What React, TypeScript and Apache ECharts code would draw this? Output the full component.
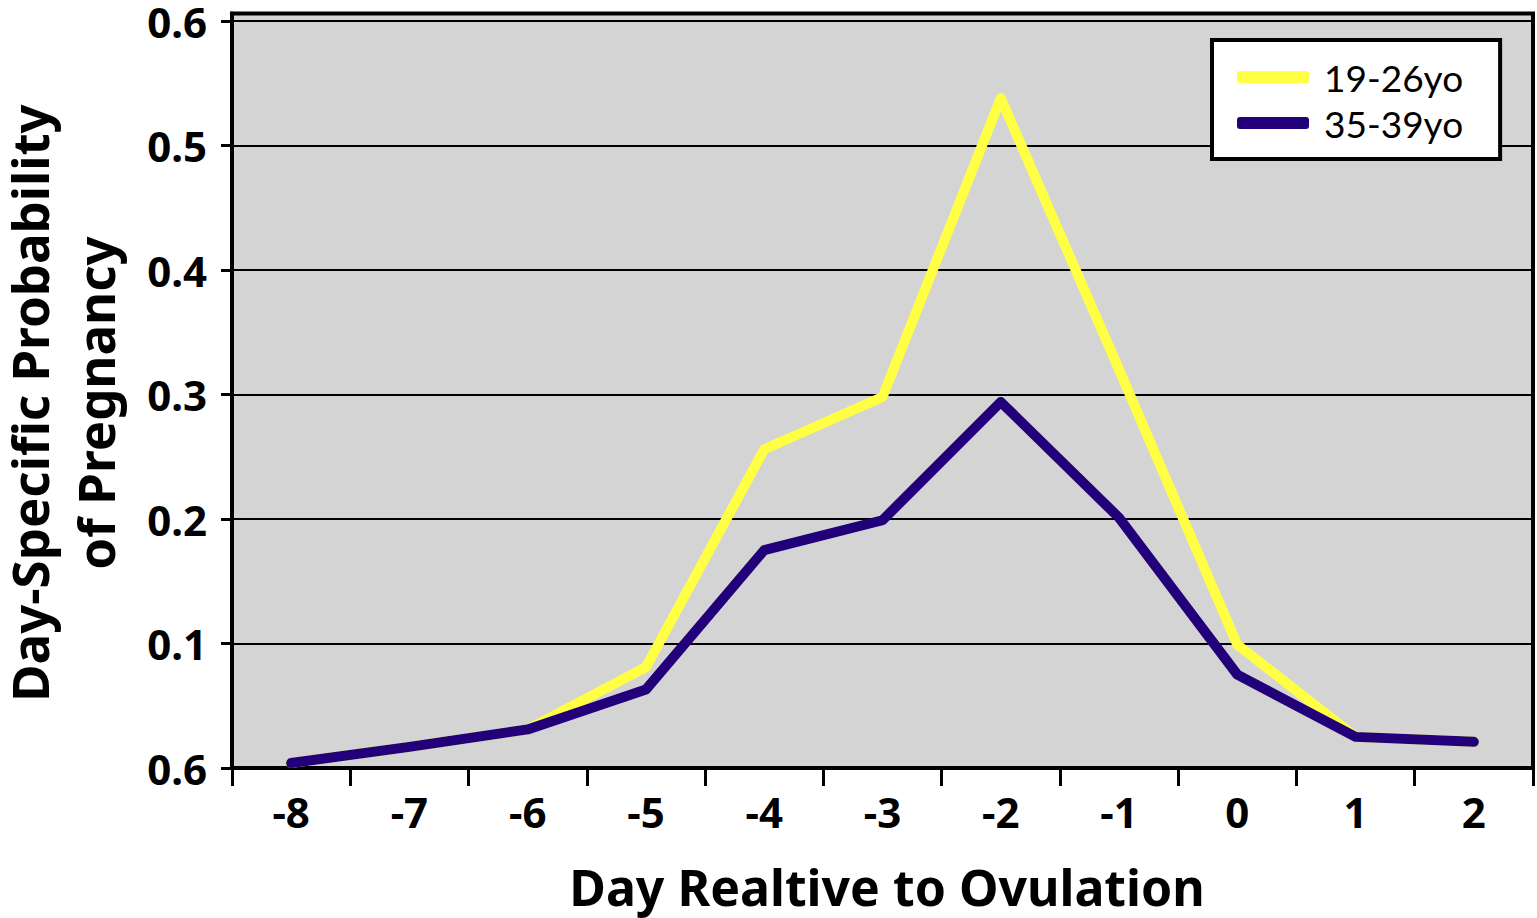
import React, { useEffect, useRef } from "react";
import * as echarts from "echarts";

const days = ["-8", "-7", "-6", "-5", "-4", "-3", "-2", "-1", "0", "1", "2"];
const young = [0.004, 0.017, 0.031, 0.081, 0.256, 0.298, 0.538, 0.32, 0.099, 0.025, 0.021];
const older = [0.004, 0.017, 0.031, 0.063, 0.175, 0.199, 0.294, 0.201, 0.075, 0.025, 0.021];
const seriesNames = ["19-26yo", "35-39yo"];
const yTicks = ["0.6", "0.1", "0.2", "0.3", "0.4", "0.5", "0.6"];
const xTitle = "Day Realtive to Ovulation";
const yTitleLines = ["Day-Specific Probability", "of Pregnancy"];

const FONT = "Noto Sans";

export default function App() {
  const ref = useRef<HTMLDivElement>(null);
  useEffect(() => {
    if (!ref.current) return;
    const chart = echarts.init(ref.current, null, { renderer: "svg" });
    chart.setOption({
      animation: false,
      backgroundColor: "#ffffff",
      textStyle: { fontFamily: FONT },
      grid: {
        left: 232,
        right: 4,
        top: 12,
        bottom: 150,
        show: true,
        backgroundColor: "#d4d4d4",
        borderColor: "#000",
        borderWidth: 4,
      },
      legend: {
        orient: "vertical",
        left: 1212,
        top: 40,
        backgroundColor: "#fff",
        borderColor: "#000",
        borderWidth: 4,
        borderRadius: 0,
        padding: [18, 37, 17, 25],
        itemWidth: 72,
        itemHeight: 12,
        itemGap: 8,
        icon: "roundRect",
        textStyle: {
          fontFamily: "Lato",
          fontSize: 37,
          lineHeight: 38,
          color: "#000",
          padding: [0, 0, 0, 10],
        },
        data: seriesNames,
      },
      xAxis: {
        type: "category",
        data: days,
        boundaryGap: true,
        axisLine: { lineStyle: { color: "#000", width: 4 } },
        axisTick: { show: true, length: 18, lineStyle: { color: "#000", width: 3 } },
        axisLabel: { fontFamily: FONT, fontWeight: "bold", fontSize: 42, color: "#000", margin: 22 },
        splitLine: { show: false },
      },
      yAxis: {
        type: "value",
        min: 0,
        max: 0.606,
        interval: 0.1,
        axisLine: { show: true, lineStyle: { color: "#000", width: 4 } },
        axisTick: { show: true, length: 11, lineStyle: { color: "#000", width: 3 } },
        axisLabel: {
          fontFamily: FONT,
          fontWeight: "bold",
          fontSize: 42,
          lineHeight: 28,
          color: "#000",
          margin: 25,
          showMaxLabel: false,
          formatter: (v: number) => {
            const i = Math.round(v * 10);
            return Math.abs(v * 10 - i) < 1e-6 ? yTicks[i] ?? "" : "";
          },
        },
        splitLine: { show: true, lineStyle: { color: "#000", width: 2 } },
      },
      graphic: [
        {
          type: "text",
          x: 29,
          y: 403,
          rotation: Math.PI / 2,
          style: {
            text: yTitleLines[0],
            fontFamily: FONT,
            fontWeight: "bold",
            fontSize: 51,
            lineHeight: 46,
            fill: "#000",
            align: "center",
            verticalAlign: "middle",
          },
        },
        {
          type: "text",
          x: 95,
          y: 403,
          rotation: Math.PI / 2,
          style: {
            text: yTitleLines[1],
            fontFamily: FONT,
            fontWeight: "bold",
            fontSize: 51,
            lineHeight: 46,
            fill: "#000",
            align: "center",
            verticalAlign: "middle",
          },
        },
        {
          type: "text",
          x: 887,
          y: 887,
          style: {
            text: xTitle,
            fontFamily: FONT,
            fontWeight: "bold",
            fontSize: 50,
            lineHeight: 46,
            fill: "#000",
            align: "center",
            verticalAlign: "middle",
          },
        },
      ],
      series: [
        {
          name: seriesNames[0],
          type: "line",
          data: young,
          symbol: "none",
          itemStyle: { color: "#ffff44" },
          lineStyle: { color: "#ffff44", width: 10, cap: "round", join: "round" },
        },
        {
          name: seriesNames[1],
          type: "line",
          data: older,
          symbol: "none",
          itemStyle: { color: "#22007a" },
          lineStyle: { color: "#22007a", width: 10, cap: "round", join: "round" },
        },
      ],
    });
    return () => chart.dispose();
  }, []);
  return (
    <div
      ref={ref}
      style={{ position: "fixed", left: 0, top: 0, width: 1537, height: 918 }}
    />
  );
}
